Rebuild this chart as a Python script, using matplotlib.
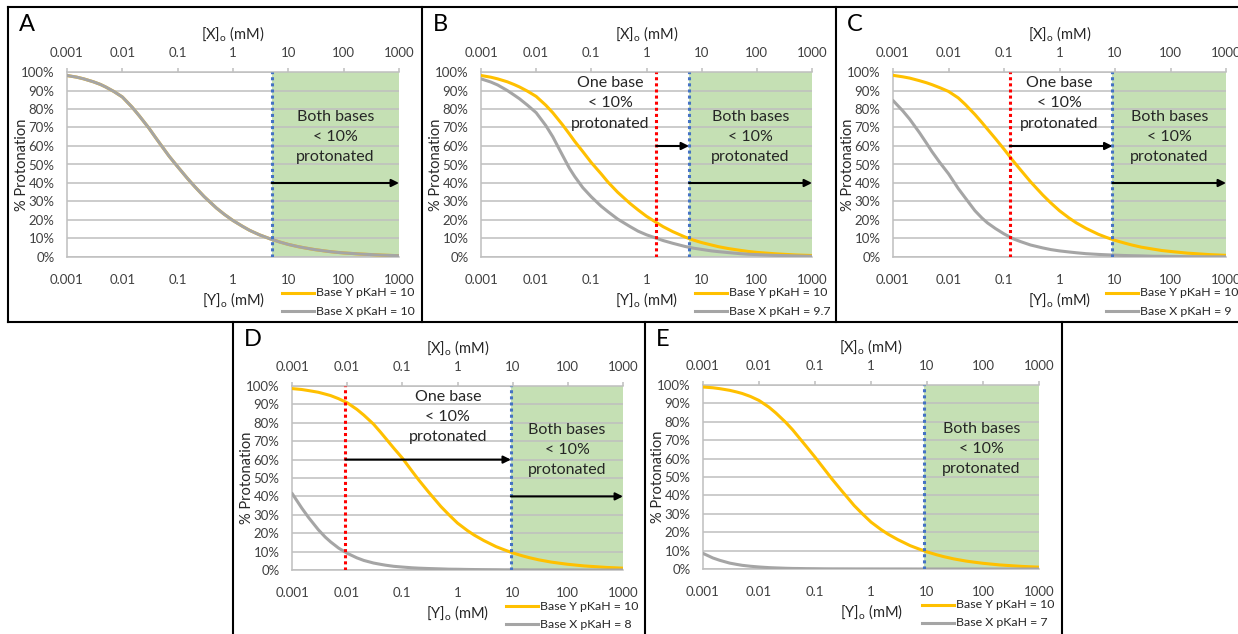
import matplotlib
matplotlib.use("Agg")
import matplotlib.pyplot as plt
from matplotlib.lines import Line2D
from matplotlib.ticker import NullLocator, FixedLocator

plt.rcParams["font.family"] = ["Lato", "DejaVu Sans"]
plt.rcParams["mathtext.default"] = "regular"

# ---- data -------------------------------------------------------------
conc_mM = [0.001, 0.0015, 0.002, 0.003, 0.004, 0.005, 0.007, 0.01, 0.015, 0.02,
           0.03, 0.04, 0.05, 0.07, 0.1, 0.15, 0.2, 0.3, 0.5, 0.7, 1, 1.5, 2, 3,
           5, 7, 10, 15, 20, 30, 50, 70, 100, 200, 500, 1000]

decade_ticks = [0.001, 0.01, 0.1, 1, 10, 100, 1000]
decade_labels = ["0.001", "0.01", "0.1", "1", "10", "100", "1000"]
pct_ticks = list(range(0, 101, 10))

# % protonation of base Y (pKaH = 10) and base X in each panel
a_base_y = [98.1, 97.2, 96.3, 94.7, 93.3, 91.9, 89.5, 86.5, 81.0, 76.5, 69.8, 64.5,
            60.5, 54.5, 48.8, 42.5, 38.3, 32.7, 26.5, 23.0, 19.7, 16.5, 14.4, 12.0,
            9.5, 8.1, 6.8, 5.6, 4.9, 4.0, 3.1, 2.6, 2.2, 1.6, 1.0, 0.7]
a_base_x = [98.1, 97.2, 96.3, 94.7, 93.3, 91.9, 89.5, 86.5, 81.0, 76.5, 69.8, 64.5,
            60.5, 54.5, 48.8, 42.5, 38.3, 32.7, 26.5, 23.0, 19.7, 16.5, 14.4, 12.0,
            9.5, 8.1, 6.8, 5.6, 4.9, 4.0, 3.1, 2.6, 2.2, 1.6, 1.0, 0.7]
b_base_y = [98.1, 97.2, 96.3, 94.7, 93.2, 91.9, 89.6, 86.8, 82.0, 78.0, 71.5, 66.5,
            62.5, 57.0, 51.0, 45.0, 40.5, 35.0, 29.0, 25.5, 22.0, 18.7, 16.4, 13.7,
            10.8, 9.2, 7.8, 6.5, 5.6, 4.6, 3.6, 3.0, 2.5, 1.8, 1.1, 0.8]
b_base_x = [96.3, 94.6, 93.0, 90.0, 87.5, 85.5, 82.0, 78.0, 71.0, 65.0, 55.0, 48.0,
            43.5, 37.5, 32.5, 27.5, 24.5, 20.5, 16.5, 14.0, 12.0, 10.2, 8.9, 7.4,
            5.7, 4.8, 4.1, 3.3, 2.9, 2.4, 1.8, 1.5, 1.3, 0.9, 0.6, 0.4]
c_base_y = [98.2, 97.4, 96.7, 95.3, 94.2, 93.2, 91.5, 89.5, 86.0, 82.5, 77.0, 72.7,
            69.2, 64.0, 58.3, 51.5, 47.0, 40.7, 33.5, 29.2, 25.0, 21.0, 18.5, 15.5,
            12.3, 10.6, 9.0, 7.5, 6.5, 5.3, 4.2, 3.5, 3.0, 2.1, 1.3, 0.9]
c_base_x = [84.6, 79.0, 74.5, 67.2, 61.6, 57.1, 51.0, 45.0, 37.0, 32.0, 25.0, 21.1,
            18.5, 15.4, 12.5, 9.7, 8.3, 6.5, 4.9, 4.0, 3.3, 2.7, 2.3, 1.8,
            1.4, 1.2, 1.0, 0.8, 0.7, 0.6, 0.4, 0.4, 0.3, 0.2, 0.1, 0.1]
d_base_y = [98.6, 98.1, 97.5, 96.6, 95.6, 94.8, 93.1, 90.9, 87.3, 84.2, 79.3, 75.0,
            71.5, 66.2, 60.8, 53.7, 48.8, 42.3, 34.5, 30.0, 25.5, 21.5, 19.0, 16.0,
            12.7, 11.0, 9.3, 7.7, 6.7, 5.5, 4.3, 3.7, 3.1, 2.2, 1.4, 1.0]
d_base_x = [41.7, 33.7, 28.5, 21.9, 17.9, 15.3, 11.9, 9.1, 6.6, 5.2, 3.8, 3.1,
            2.6, 2.0, 1.6, 1.2, 1.0, 0.8, 0.6, 0.45, 0.4, 0.3, 0.25, 0.2,
            0.15, 0.1, 0.1, 0.1, 0.05, 0.05, 0.05, 0.05, 0.05, 0, 0, 0]
e_base_y = [98.9, 98.5, 98.0, 97.1, 96.2, 95.4, 93.8, 91.6, 88.0, 84.8, 79.7, 75.6,
            72.0, 66.6, 60.8, 53.9, 49.0, 42.5, 34.5, 30.0, 25.5, 21.5, 19.0, 16.0,
            12.7, 11.0, 9.3, 7.7, 6.7, 5.5, 4.3, 3.7, 3.1, 2.2, 1.4, 1.0]
e_base_x = [8.5, 6.0, 4.7, 3.2, 2.5, 2.0, 1.5, 1.1, 0.75, 0.6, 0.4, 0.3,
            0.27, 0.2, 0.16, 0.1, 0.08, 0.07, 0.05, 0.04, 0.04, 0.03, 0.02, 0.02,
            0.01, 0, 0, 0, 0, 0, 0, 0, 0, 0, 0, 0]

letters = ["A", "B", "C", "D", "E"]
y_labels = ["Base Y pKaH = 10"] * 5
x_labels = ["Base X pKaH = 10", "Base X pKaH = 9.7", "Base X pKaH = 9",
            "Base X pKaH = 8", "Base X pKaH = 7"]
series_y = [a_base_y, b_base_y, c_base_y, d_base_y, e_base_y]
series_x = [a_base_x, b_base_x, c_base_x, d_base_x, e_base_x]

# concentration where one base / both bases drop below 10 %
one_base_limit = [None, 1.5, 0.127, 0.0093, None]
both_base_limit = [5.0, 5.9, 9.0, 9.3, 8.8]
one_base_text_x = [None, 0.22, 1.0, 0.67, None]

# ---- styling ------------------------------------------------------------
W, H = 1238, 634
YELLOW = "#ffc000"
GREY = "#a5a5a5"
GRID = "#bfbfbf"
GREEN = "#c5e0b4"
RED = "#ff0000"
BLUE = "#4472c4"
TXT = "#262626"
TICK = "#404040"

# axes rectangles in pixels: left, top, right, bottom
rects = [(67, 72, 399, 257), (481, 72, 812, 257), (893, 72, 1226, 257),
         (292, 386, 623, 570), (703, 385, 1039, 569)]
# panel boxes: left, top, right, bottom
boxes = [(8, 7, 422, 322), (422, 7, 836, 322), (836, 7, 1240, 322),
         (233, 322, 645, 640), (645, 322, 1062, 640)]
legend_shift = [0, 0, -3, 0, 0]

fig = plt.figure(figsize=(W / 100, H / 100), dpi=100)


def fig_xy(px, py):
    return px / W, 1 - py / H


def fig_line(x0, y0, x1, y1, **kw):
    (a, b), (c, d) = fig_xy(x0, y0), fig_xy(x1, y1)
    fig.add_artist(Line2D([a, c], [b, d], transform=fig.transFigure, **kw))


for i in range(5):
    l, t, r, b = rects[i]
    x0, y0 = fig_xy(l, b)
    ax = fig.add_axes([x0, y0, (r - l) / W, (b - t) / H])
    ax.set_xscale("log")
    ax.set_xlim(0.001, 1000)
    ax.set_ylim(0, 100)

    ax.set_yticks(pct_ticks)
    ax.set_yticklabels([f"{v}%" for v in pct_ticks])
    ax.xaxis.set_major_locator(FixedLocator(decade_ticks))
    ax.xaxis.set_minor_locator(NullLocator())
    ax.set_xticklabels(decade_labels)
    ax.tick_params(axis="y", length=0, pad=9, labelsize=9.5, labelcolor=TICK)
    ax.tick_params(axis="x", length=0, pad=12, labelsize=9.5, labelcolor=TICK)
    ax.yaxis.grid(True, color=GRID, lw=1.1)
    ax.set_axisbelow(True)
    for s in ("top", "right"):
        ax.spines[s].set_visible(False)
    for s in ("left", "bottom"):
        ax.spines[s].set_color(GRID)
        ax.spines[s].set_linewidth(1.1)

    top = ax.secondary_xaxis("top")
    top.xaxis.set_major_locator(FixedLocator(decade_ticks))
    top.xaxis.set_minor_locator(NullLocator())
    top.set_xticklabels(decade_labels)
    top.tick_params(length=3, width=1.1, color=GRID, pad=6, labelsize=9.5,
                    labelcolor=TICK)
    top.spines["top"].set_color(GRID)
    top.spines["top"].set_linewidth(1.1)

    blue_x = both_base_limit[i]
    ax.axvspan(blue_x, 1000, color=GREEN, lw=0, zorder=0.4)

    ax.plot(conc_mM, series_y[i], color=YELLOW, lw=2.2, zorder=3,
            solid_capstyle="round", solid_joinstyle="round")
    ax.plot(conc_mM, series_x[i], color=GREY, lw=2.2, zorder=3.1,
            solid_capstyle="round", solid_joinstyle="round")

    ax.axvline(blue_x, color=BLUE, lw=2.2, ls=(0, (1, 1)), zorder=4)
    ax.text((blue_x * 1000) ** 0.5, 65, "Both bases\n< 10%\nprotonated",
            ha="center", va="center", fontsize=11.5, linespacing=1.55, color=TXT,
            zorder=6)

    arrow = dict(arrowstyle="-|>", color="black", lw=1.5, mutation_scale=11,
                 shrinkA=0, shrinkB=0)
    if i != 4:
        ax.annotate("", xy=(1000, 40), xytext=(blue_x, 40), arrowprops=arrow,
                    zorder=5, annotation_clip=False)

    red_x = one_base_limit[i]
    if red_x is not None:
        ax.axvline(red_x, color=RED, lw=2.2, ls=(0, (1, 1)), zorder=4)
        ax.annotate("", xy=(blue_x, 60), xytext=(red_x, 60), arrowprops=arrow,
                    zorder=5)
        ax.text(one_base_text_x[i], 83, "One base\n< 10%\nprotonated",
                ha="center", va="center", fontsize=11.5, linespacing=1.55,
                color=TXT, zorder=6)

    cx = (l + r) / 2
    fig.text(*fig_xy(cx, t - 38), "[X]$_{o}$ (mM)", ha="center", va="center",
             fontsize=10.5, color=TXT)
    fig.text(*fig_xy(cx, b + 43), "[Y]$_{o}$ (mM)", ha="center", va="center",
             fontsize=10.5, color=TXT)
    fig.text(*fig_xy(l - 45, (t + b) / 2), "% Protonation", rotation=90,
             ha="center", va="center", fontsize=10.5, color=TXT)

    # legend
    lx = r - 117 + legend_shift[i]
    for k, (lab, col) in enumerate(((y_labels[i], YELLOW), (x_labels[i], GREY))):
        ly = b + 36 + 18 * k
        fig_line(lx, ly, lx + 32, ly, color=col, lw=2.2)
        fig.text(*fig_xy(lx + 34, ly), lab, ha="left", va="center",
                 fontsize=8.9, color=TXT)

    # panel letter
    bl, bt, br, bb = boxes[i]
    fig.text(*fig_xy(bl + 11, bt + 7), letters[i], ha="left", va="top",
             fontsize=17, color="black")

# frame lines
fig_line(8, 7, 1238, 7, color="black", lw=1.5)
fig_line(8, 322, 1238, 322, color="black", lw=1.5)
for x in (8, 422, 836):
    fig_line(x, 7, x, 322, color="black", lw=1.5)
for x in (233, 645, 1062):
    fig_line(x, 322, x, 634, color="black", lw=1.5)

fig.savefig("out.png", dpi=100)
